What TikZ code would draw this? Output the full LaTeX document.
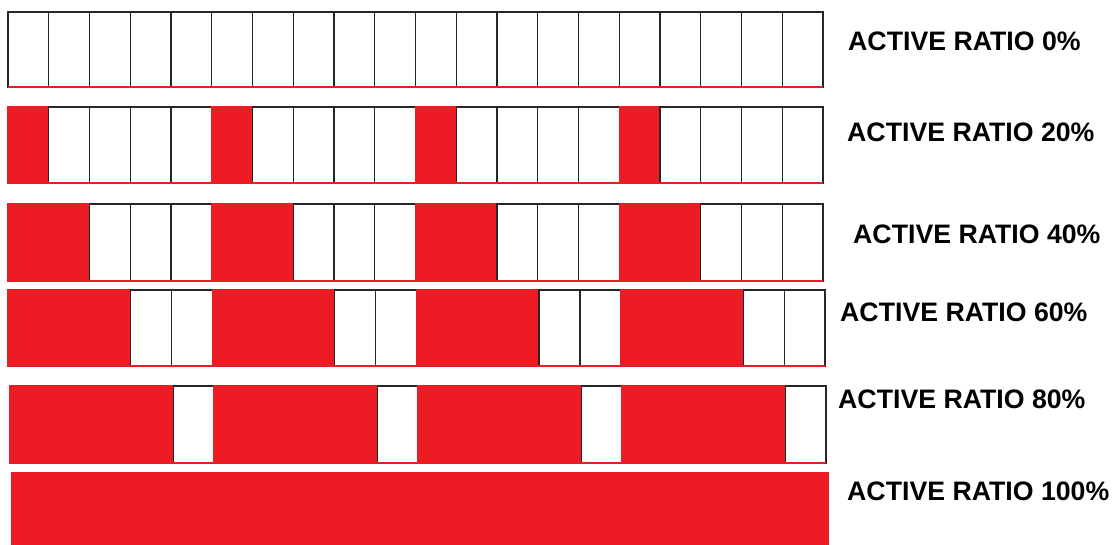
\documentclass[tikz,border=0pt]{standalone}
\usepackage{fontspec}
\setmainfont{Liberation Sans}
\usepackage{xcolor}
\usepackage{tikz}
\usetikzlibrary{positioning}

\definecolor{activered}{RGB}{237,28,36}

\begin{document}
\begin{tikzpicture}[x=1pt, y=-1pt,
	cell/.style={draw=black!85, line width=1.3pt, fill=white, rectangle, inner sep=0pt, outer sep=0pt, anchor=north west},
	oncell/.style={cell, draw=activered, fill=activered},
	ratio/.style={anchor=west, inner sep=0pt, text height=0.72em, text depth=0pt, font=\fontsize{26.7}{30}\selectfont\bfseries}
	]
	\useasboundingbox[fill=white] (0,0) rectangle (1118,544);
	% one row per ratio: left/right/top/bottom/active cells in each group of five
	\foreach \r/\xl/\xr/\yt/\yb/\act in {1/8/823/12/87/0, 2/8/823/107/183/1, 3/8/823/204/281/2,
		4/8/825/290/366/3, 5/10/826/386/463/4, 6/12/828/473/544/5} {
		\pgfmathsetmacro\w{(\xr-\xl)/20}
		\pgfmathsetmacro\h{\yb-\yt}
		\foreach \c in {0,...,19} {
			\pgfmathtruncatemacro\ph{mod(\c,5)}
			\ifnum\ph<\act
				\node [oncell, minimum width=\w pt, minimum height=\h pt](c\r-\c) at (\xl+\c*\w, \yt) {};
			\else
				\node [cell, minimum width=\w pt, minimum height=\h pt](c\r-\c) at (\xl+\c*\w, \yt) {};
			\fi
		}
		\draw[activered, line width=1.6pt] (c\r-0.south west) -- (c\r-19.south east);
	}
	% labels
	\foreach \r/\lx/\ly/\pc in {1/848/47/0, 2/847/138/20, 3/853/240/40, 4/840/318/60, 5/838/405/80, 6/847/497/100} {
		\node [ratio](lbl\r) at (\lx,\ly) {ACTIVE RATIO \pc\%};
	}
\end{tikzpicture}
\end{document}
